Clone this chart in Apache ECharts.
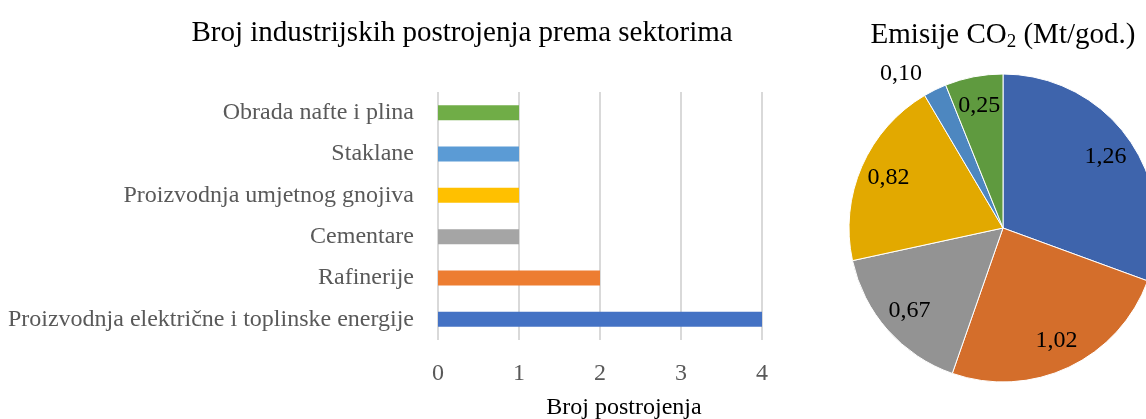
<!DOCTYPE html>
<html>
<head>
<meta charset="utf-8">
<script src="https://cdn.jsdelivr.net/npm/echarts@6/dist/echarts.min.js"></script>
<style>html,body{margin:0;padding:0;background:#fff}#c{width:1146px;height:419px}</style>
</head>
<body>
<div id="c"></div>
<script>
const categories = ['Proizvodnja električne i toplinske energije', 'Rafinerije', 'Cementare', 'Proizvodnja umjetnog gnojiva', 'Staklane', 'Obrada nafte i plina'];
const plantCounts = [4, 2, 1, 1, 1, 1];
const emissions = [1.26, 1.02, 0.67, 0.82, 0.10, 0.25];
const xTicks = [0, 1, 2, 3, 4];
const barColors = ['#4472C4', '#ED7D31', '#A5A5A5', '#FFC000', '#5B9BD5', '#70AD47'];
const pieColors = ['#3E64AC', '#D46E2B', '#939393', '#E2A900', '#4D87C0', '#5F9A3F'];

const serif = '"Liberation Serif", "DejaVu Serif", serif';
const fmt = v => v.toFixed(2).replace('.', ',');
const chart = echarts.init(document.getElementById('c'));

const pieData = categories.map((c, i) => ({name: c, value: emissions[i], itemStyle: {color: pieColors[i]}}));

chart.setOption({
  animation: false,
  title: [
    {text: 'Broj industrijskih postrojenja prema sektorima', left: 457, top: 14, textAlign: 'center',
     textStyle: {fontFamily: serif, fontSize: 29, fontWeight: 'normal', color: '#000'}},
    {text: 'Emisije CO{sub|2} (Mt/god.)', left: 998, top: 14, textAlign: 'center',
     textStyle: {fontFamily: serif, fontSize: 29, fontWeight: 'normal', color: '#000',
       rich: {sub: {fontFamily: serif, fontSize: 19, verticalAlign: 'bottom', padding: [14, 0, 0, 0], color: '#000'}}}}
  ],
  grid: {left: 438, right: 384, top: 92, bottom: 79, containLabel: false, outerBoundsMode: 'none'},
  xAxis: {
    type: 'value', min: xTicks[0], max: xTicks[xTicks.length - 1], interval: 1,
    axisLine: {show: false}, axisTick: {show: false},
    splitLine: {show: true, lineStyle: {color: '#D9D9D9', width: 2}},
    axisLabel: {fontFamily: serif, fontSize: 24, color: '#595959', margin: 22},
    name: 'Broj postrojenja', nameLocation: 'middle', nameGap: 56,
    nameTextStyle: {fontFamily: serif, fontSize: 24, color: '#000', padding: [0, 0, 0, 48]}
  },
  yAxis: {
    type: 'category', data: categories,
    axisLine: {show: false}, axisTick: {show: false},
    axisLabel: {fontFamily: serif, fontSize: 24, color: '#595959', margin: 24}
  },
  series: [
    {type: 'bar', barWidth: 15,
     data: plantCounts.map((v, i) => ({value: v, itemStyle: {color: barColors[i]}}))},
    {type: 'pie', center: [1003, 228], radius: [0, 154], startAngle: 90, clockwise: true,
     itemStyle: {borderColor: '#fff', borderWidth: 1},
     label: {show: true, position: 'outside', fontFamily: serif, fontSize: 24, color: '#000',
       formatter: p => p.dataIndex === 4 ? fmt(p.value) : ''},
     labelLine: {show: false, length: 18, length2: 0},
     emphasis: {disabled: true}, silent: true,
     data: pieData},
    {type: 'pie', center: [1003, 228], radius: [0, 244], startAngle: 90, clockwise: true, silent: true,
     itemStyle: {color: 'rgba(0,0,0,0)', borderWidth: 0},
     label: {show: true, position: 'inside', fontFamily: serif, fontSize: 24, color: '#000',
       formatter: p => p.dataIndex === 4 ? '' : fmt(p.value)},
     labelLine: {show: false}, emphasis: {disabled: true},
     data: categories.map((c, i) => ({name: c, value: emissions[i]}))}
  ]
});
</script>
</body>
</html>
